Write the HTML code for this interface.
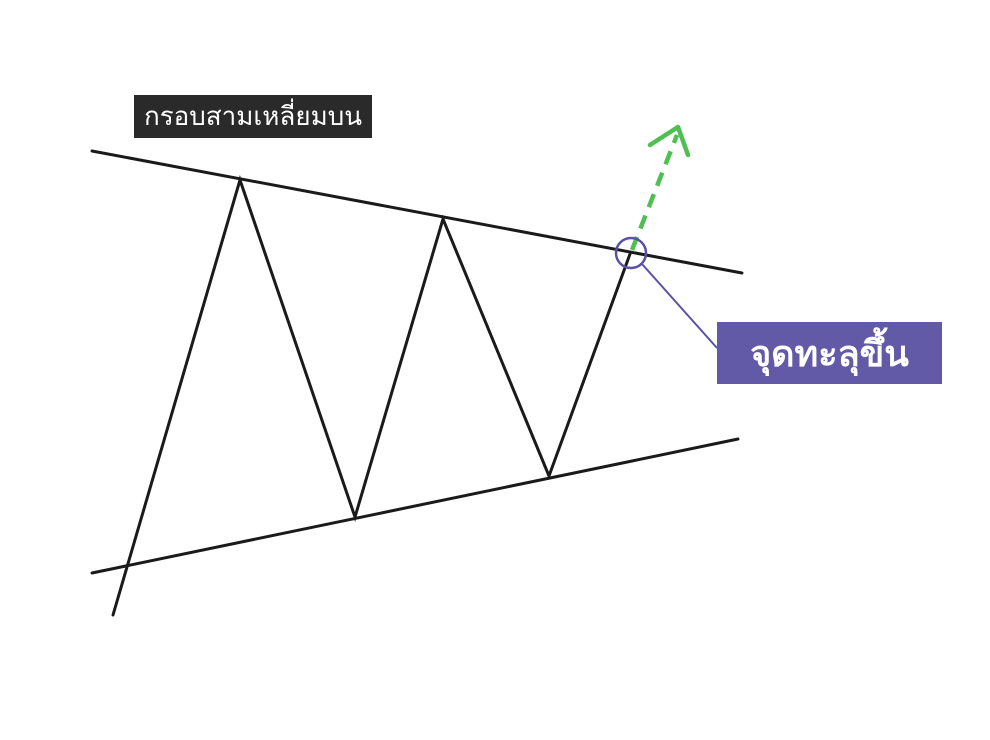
<!DOCTYPE html>
<html><head><meta charset="utf-8"><style>
html,body{margin:0;padding:0;background:#fff;width:990px;height:740px;overflow:hidden}
.lab{position:absolute;font-family:"Liberation Sans","DejaVu Sans",sans-serif;color:#fff;display:flex;align-items:center;justify-content:center}
</style></head><body>
<svg width="990" height="740" style="position:absolute;left:0;top:0">
<g stroke="#1a1a1a" stroke-width="3" fill="none" stroke-linecap="round" stroke-linejoin="miter">
<line x1="92" y1="151" x2="742" y2="273"/>
<line x1="92" y1="573" x2="738" y2="439"/>
<polyline points="113,615 240,180 355,517 443,219 549,476 630,254"/>
</g>
<line x1="632" y1="250" x2="677" y2="135" stroke="#4fbf52" stroke-width="4.5" stroke-dasharray="14,9"/>
<polyline points="650,145 678,127 688,155" stroke="#4fbf52" stroke-width="4.5" fill="none" stroke-linecap="round" stroke-linejoin="round"/>
<circle cx="631" cy="253" r="15" stroke="#5a50a6" stroke-width="2.5" fill="none"/>
<line x1="642" y1="264" x2="717" y2="348" stroke="#5a50a6" stroke-width="2"/>
</svg>
<div class="lab" style="left:134px;top:95px;width:238px;height:43px;background:#2a2a2a;font-size:26px">กรอบสามเหลี่ยมบน</div>
<div class="lab" style="left:717px;top:322px;width:225px;height:62px;background:#6259a7;font-size:36px;font-weight:bold">จุดทะลุขึ้น</div>
</body></html>
